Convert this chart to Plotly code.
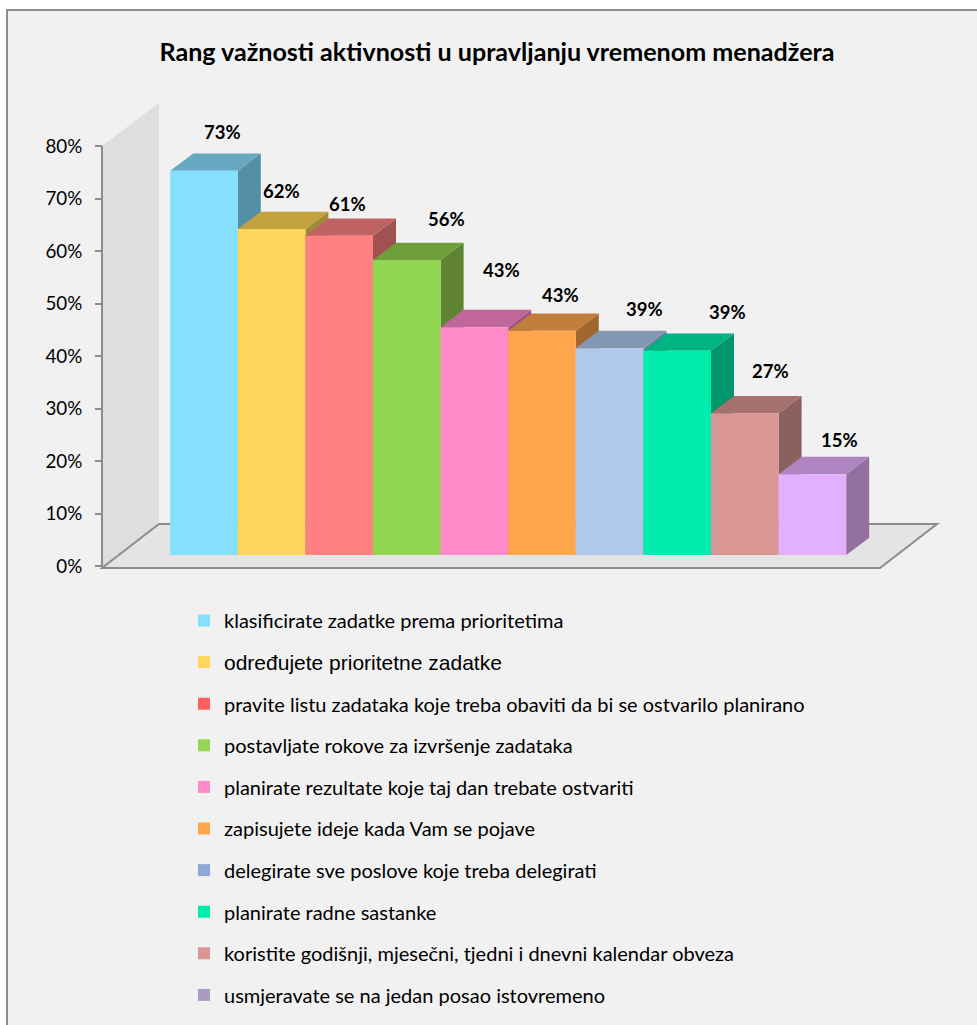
import plotly.graph_objects as go

categories = [
    "klasificirate zadatke prema prioritetima",
    "određujete prioritetne zadatke",
    "pravite listu zadataka koje treba obaviti da bi se ostvarilo planirano",
    "postavljate rokove za izvršenje zadataka",
    "planirate rezultate koje taj dan trebate ostvariti",
    "zapisujete ideje kada Vam se pojave",
    "delegirate sve poslove koje treba delegirati",
    "planirate radne sastanke",
    "koristite godišnji, mjesečni, tjedni i dnevni kalendar obveza",
    "usmjeravate se na jedan posao istovremeno",
]
values = [73.2, 62.1, 60.8, 56.2, 43.4, 42.7, 39.4, 38.9, 27.0, 15.4]
tick_values = [0, 10, 20, 30, 40, 50, 60, 70, 80]
tick_labels = ["0%", "10%", "20%", "30%", "40%", "50%", "60%", "70%", "80%"]

front_colors = ["#85DFFF", "#FFD65A", "#FF8080", "#92D652", "#FF8AC8",
                "#FFA64D", "#AFC8EC", "#00EDAE", "#D99694", "#E2B0FF"]
top_colors = ["#66A8C2", "#C2A23F", "#C06262", "#6F9E3D", "#C0669A",
              "#C17D3A", "#8298B4", "#00B383", "#A4716F", "#AE85C0"]
side_colors = ["#5390A6", "#A08A36", "#A05252", "#5E8432", "#A05580",
               "#A0682F", "#6C7E96", "#00966D", "#8B605E", "#9270A2"]
legend_colors = ["#85DFFF", "#FFD65A", "#FF5F5F", "#92D652", "#FF8AC8",
                 "#FFA64D", "#8FA9D4", "#00EDAE", "#D99694", "#A99BC2"]

W, H = 977, 1025
PX_PER_CAT = 67.6
PX_PER_PCT = 5.25
X0_PX, Y0_PX = 204.0, 555.0
AXIS_Y0_PX = 566.3
DX = 23 / PX_PER_CAT
DY = 17.3 / PX_PER_PCT
label_dx = [18, 10, 8, 40, 27, 18, 35, 50, 26, 27]
label_dy = [39, 38, 32, 41, 57, 36, 39, 39, 42, 34]
FONT = "Lato"


def px_x(p):
    return p / W


def px_y(p):
    return 1 - p / H


def poly(points):
    pts = [f"{px_x(x):.5f},{px_y(y):.5f}" for x, y in points]
    return "M" + " L".join(pts) + " Z"


fig = go.Figure()

for i, v in enumerate(values):
    r = i + 0.5
    l = i - 0.5
    fig.add_trace(go.Scatter(
        x=[r, r + DX, r + DX, r], y=[v, v + DY, DY, 0],
        mode="lines", fill="toself", fillcolor=side_colors[i],
        line=dict(width=0), showlegend=False, hoverinfo="skip", zorder=3 * i))
    fig.add_trace(go.Scatter(
        x=[l, l + DX, r + DX, r], y=[v, v + DY, v + DY, v],
        mode="lines", fill="toself", fillcolor=top_colors[i],
        line=dict(width=0), showlegend=False, hoverinfo="skip", zorder=3 * i + 1))
    fig.add_trace(go.Bar(
        x=[i], y=[v], width=1, marker=dict(color=front_colors[i], line=dict(width=0)),
        showlegend=False, name=categories[i], zorder=3 * i + 2))

for i, name in enumerate(categories):
    label = name
    if i == 1:
        label = f'<span style="font-family:Liberation Sans;font-size:21px">{name}</span>'
    fig.add_trace(go.Scatter(
        x=[None], y=[None], mode="markers", name=label, legendgroup=f"g{i}",
        marker=dict(symbol="square", size=12, color=legend_colors[i], line=dict(width=0))))

fig.add_trace(go.Scatter(x=[None], y=[None], yaxis="y2", showlegend=False, hoverinfo="skip"))

annotations = [
    dict(x=i, y=v, xref="x", yref="y", text=f"{round(v)}%", showarrow=False,
         xshift=label_dx[i], yshift=label_dy[i], xanchor="center", yanchor="middle",
         font=dict(family=FONT, size=18.5, color="black", weight="bold"))
    for i, v in enumerate(values)
]

grey = "#8C8C8C"
shapes = [
    dict(type="rect", xref="paper", yref="paper", x0=px_x(7), x1=px_x(990), y0=px_y(10), y1=px_y(1040),
         fillcolor="#F1F1F1", line=dict(color=grey, width=2), layer="below"),
    dict(type="path", xref="paper", yref="paper",
         path=poly([(102, 146), (159, 103), (159, 524), (102, 568)]),
         fillcolor="#DEDEDE", line=dict(width=0), layer="below"),
    dict(type="path", xref="paper", yref="paper",
         path=poly([(102, 568), (880, 568), (937, 524), (159, 524)]),
         fillcolor="#E4E4E4", line=dict(color=grey, width=2), layer="below"),
    dict(type="line", xref="paper", yref="paper", x0=px_x(102), x1=px_x(102), y0=px_y(146), y1=px_y(568),
         line=dict(color=grey, width=2), layer="below"),
]

fig.update_layout(
    width=W, height=H, autosize=False,
    margin=dict(l=0, r=0, t=0, b=0, pad=0),
    paper_bgcolor="white", plot_bgcolor="rgba(0,0,0,0)",
    barmode="overlay",
    title=dict(text="<b>Rang važnosti aktivnosti u upravljanju vremenom menadžera</b>",
               x=497 / W, y=px_y(52), xanchor="center", yanchor="middle", xref="paper", yref="paper",
               font=dict(family=FONT, size=25.1, color="black")),
    xaxis=dict(visible=False, domain=[0, 1],
               range=[-X0_PX / PX_PER_CAT, (W - X0_PX) / PX_PER_CAT], fixedrange=True),
    yaxis=dict(visible=False, domain=[0, 1],
               range=[-(H - Y0_PX) / PX_PER_PCT, Y0_PX / PX_PER_PCT], fixedrange=True),
    yaxis2=dict(overlaying="y", anchor="free", position=102 / W, side="left",
                range=[-(H - AXIS_Y0_PX) / PX_PER_PCT, AXIS_Y0_PX / PX_PER_PCT],
                tickmode="array", tickvals=tick_values, ticktext=tick_labels,
                ticks="outside", ticklen=7, tickwidth=2, tickcolor=grey,
                showgrid=False, zeroline=False, showline=False, fixedrange=True,
                tickfont=dict(family=FONT, size=18.8, color="black"), ticklabelstandoff=9),
    legend=dict(x=px_x(184), xanchor="left", y=px_y(601), yanchor="top",
                bgcolor="rgba(0,0,0,0)", borderwidth=0, tracegroupgap=12.6,
                font=dict(family=FONT, size=20, color="black"),
                itemsizing="constant"),
    annotations=annotations,
    shapes=shapes,
)

fig.write_html("out.html", config={"displayModeBar": False},
               post_script="document.body.style.margin='0';document.documentElement.style.overflow='hidden';")
